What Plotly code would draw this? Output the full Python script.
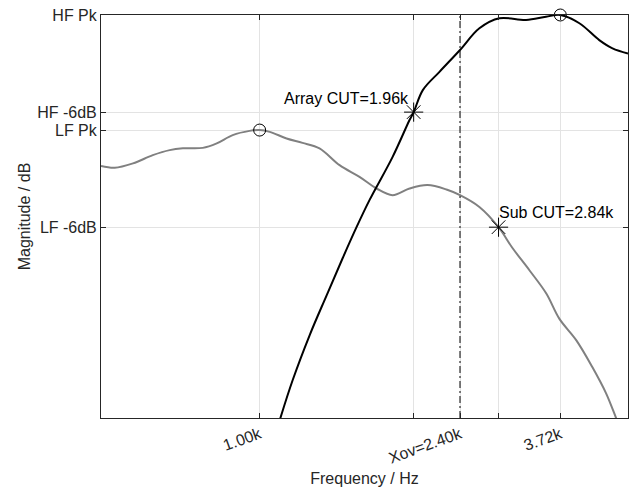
import plotly.graph_objects as go
import math

# ---- data ----
lf_freq = [500, 531, 575, 627, 675, 715, 780, 829, 889, 957, 1000, 1045, 1125, 1206,
           1299, 1418, 1547, 1667, 1787, 1925, 2082, 2262, 2400, 2612, 2840, 3016,
           3250, 3499, 3703, 3990, 4278, 4546, 4749, 4811]
lf_db = [-9.33, -9.44, -9.17, -8.66, -8.35, -8.24, -8.21, -7.93, -7.42, -7.16, -7.11,
         -7.22, -7.63, -7.90, -8.24, -9.28, -10.00, -10.72, -11.13, -10.72, -10.51,
         -10.78, -11.13, -11.86, -13.11, -14.38, -15.77, -17.21, -18.76, -20.10,
         -21.75, -23.39, -24.92, -25.36]

hf_freq = [1086, 1094, 1155, 1244, 1340, 1437, 1527, 1616, 1787, 1925, 1960, 2040,
           2194, 2400, 2612, 2851, 3203, 3494, 3720, 4043, 4410, 4673, 5000]
hf_db = [-25.29, -24.94, -22.57, -19.79, -17.32, -15.03, -13.11, -11.44, -8.78,
         -6.49, -6.0, -4.64, -3.51, -2.16, -0.82, -0.20, -0.31, -0.11, 0.0, -0.51,
         -1.55, -2.06, -2.38]

peak_freq = [1000, 3720]
peak_db = [-7.11, 0.0]
cut_freq = [1960, 2840]
cut_db = [-6.0, -13.11]
cut_labels = ["Array CUT=1.96k", "Sub CUT=2.84k"]
xover = 2400

x_tickvals = [1000, 1960, 2400, 2840, 3720]
x_ticktext = ["1.00k", "", "Xov=2.40k", "", "3.72k"]
y_tickvals = [-13.11, -7.11, -6.0, 0.0]
y_ticktext = ["LF -6dB", "LF Pk", "HF -6dB", "HF Pk"]
x_range_hz = [500, 5000]
y_range_db = [-24.9, 0.0]

FONT = "Liberation Sans, Arial, Helvetica, sans-serif"
AX = "#262626"

fig = go.Figure()
fig.add_trace(go.Scatter(x=lf_freq, y=lf_db, mode="lines",
                         line=dict(color="#808080", width=2, shape="spline", smoothing=1.0),
                         showlegend=False, hoverinfo="skip"))
fig.add_trace(go.Scatter(x=hf_freq, y=hf_db, mode="lines",
                         line=dict(color="black", width=2, shape="spline", smoothing=1.0),
                         showlegend=False, hoverinfo="skip"))
fig.add_trace(go.Scatter(x=[xover, xover], y=y_range_db, mode="lines",
                         line=dict(color="black", width=1, dash="7px,3px,2px,3px"),
                         showlegend=False, hoverinfo="skip"))
fig.add_trace(go.Scatter(x=peak_freq, y=peak_db, mode="markers", cliponaxis=False,
                         marker=dict(symbol="circle-open", size=12, color="black",
                                     line=dict(width=1, color="black")),
                         showlegend=False, hoverinfo="skip"))
fig.add_trace(go.Scatter(x=cut_freq, y=cut_db, mode="markers", cliponaxis=False,
                         marker=dict(symbol="asterisk-open", size=16, color="black",
                                     line=dict(width=1, color="black")),
                         showlegend=False, hoverinfo="skip"))

fig.add_annotation(x=math.log10(cut_freq[0]), y=cut_db[0], text=cut_labels[0],
                   showarrow=False, xanchor="right", yanchor="bottom",
                   xshift=-3, yshift=3, font=dict(family=FONT, size=16, color="black"))
fig.add_annotation(x=math.log10(cut_freq[1]), y=cut_db[1], text=cut_labels[1],
                   showarrow=False, xanchor="left", yanchor="bottom",
                   xshift=-2, yshift=4, font=dict(family=FONT, size=16, color="black"))

fig.update_xaxes(type="log", range=[math.log10(x_range_hz[0]), math.log10(x_range_hz[1])],
                 tickvals=x_tickvals, ticktext=x_ticktext, tickangle=-20,
                 ticks="inside", ticklen=5, tickcolor=AX, mirror="ticks",
                 showline=True, linecolor=AX, linewidth=1, automargin=False,
                 showgrid=True, gridcolor="#e3e3e3", gridwidth=1, zeroline=False,
                 tickfont=dict(family=FONT, size=16, color=AX),
                 title=dict(text="Frequency / Hz", font=dict(family=FONT, size=16, color=AX),
                            standoff=7))
fig.update_yaxes(range=y_range_db, tickvals=y_tickvals, ticktext=y_ticktext,
                 ticks="inside", ticklen=5, tickcolor=AX, mirror="ticks",
                 showline=True, linecolor=AX, linewidth=1, automargin=False,
                 showgrid=True, gridcolor="#e3e3e3", gridwidth=1, zeroline=False,
                 tickfont=dict(family=FONT, size=16, color=AX),
                 title=dict(text="Magnitude / dB", font=dict(family=FONT, size=16, color=AX),
                            standoff=2))

fig.update_layout(width=633, height=488, margin=dict(l=101, r=5, t=15, b=70),
                  plot_bgcolor="white", paper_bgcolor="white",
                  font=dict(family=FONT, size=16, color=AX))

fig.write_html("out.html", config={"displayModeBar": False},
               post_script="document.body.style.margin='0';document.body.style.overflow='hidden';")
